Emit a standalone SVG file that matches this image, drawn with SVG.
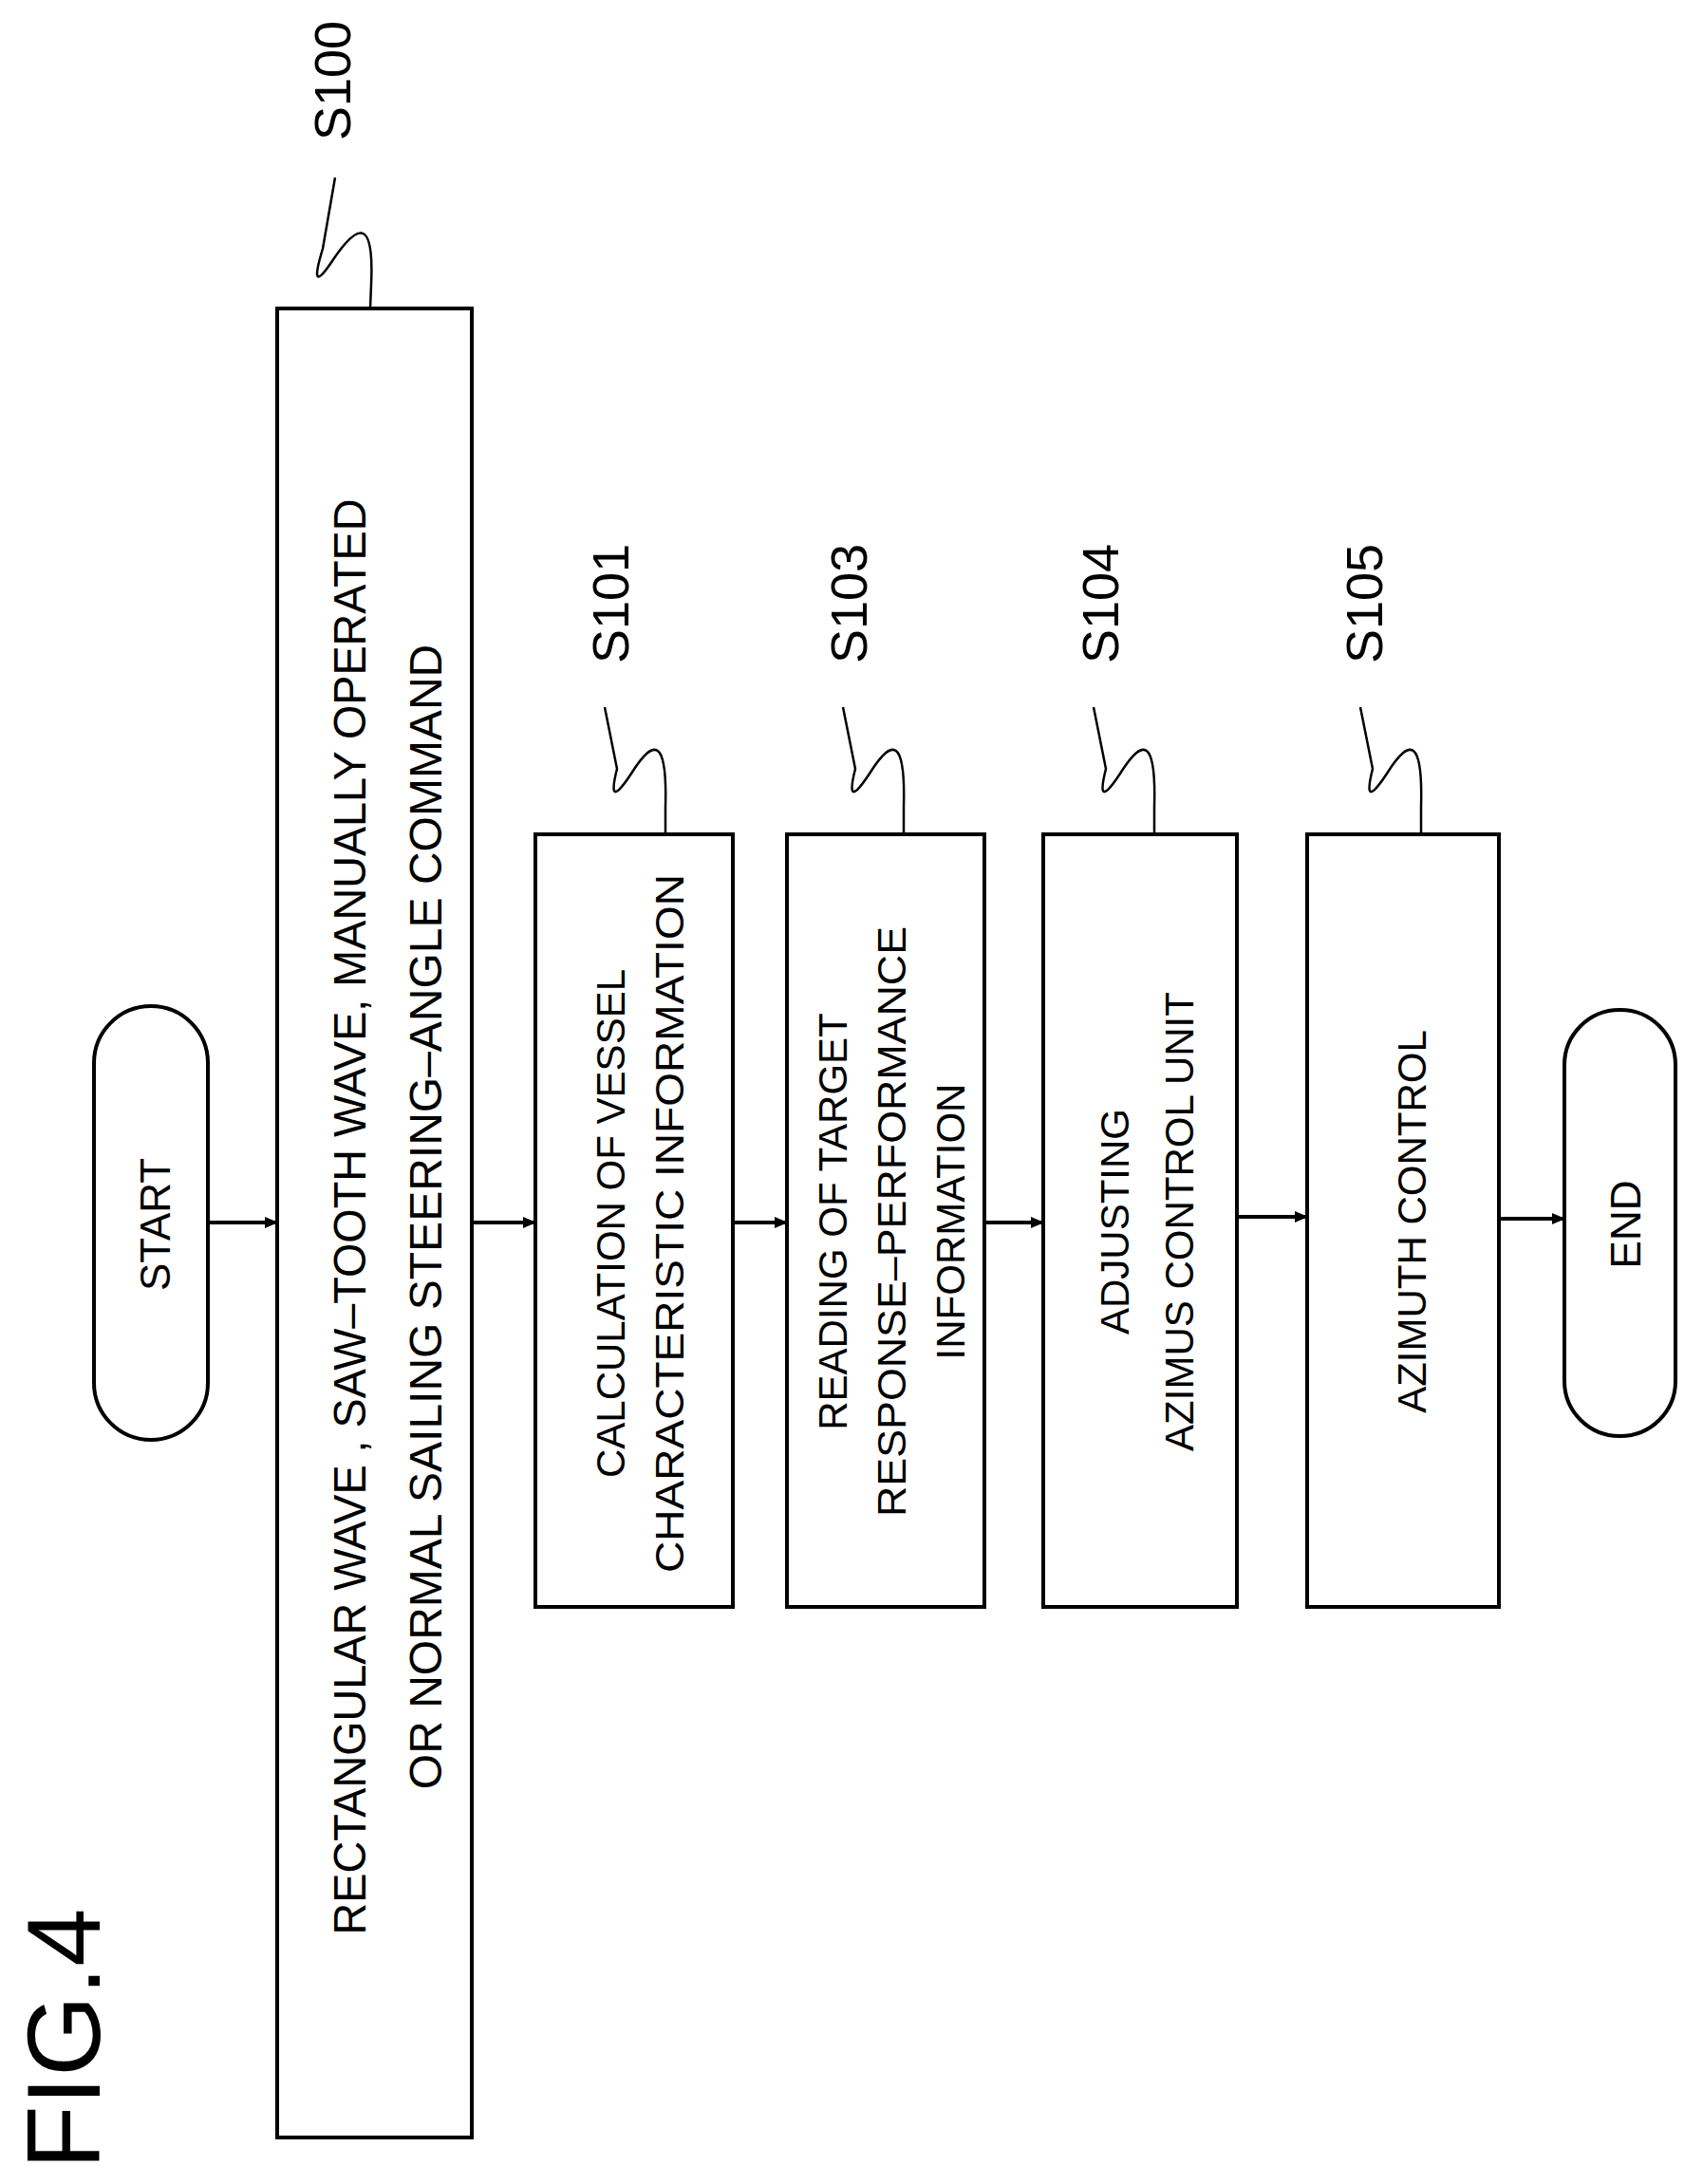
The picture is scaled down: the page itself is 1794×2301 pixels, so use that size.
<svg xmlns="http://www.w3.org/2000/svg" width="1794" height="2301" viewBox="0 0 1794 2301">
<style>
.b{fill:#fff;stroke:#000;stroke-width:4}
.t{font-family:"Liberation Sans",Arial,sans-serif;fill:#000;text-anchor:middle;dominant-baseline:central}
.c{fill:none;stroke:#000;stroke-width:4}
.s{fill:none;stroke:#000;stroke-width:2.5}
</style>
<defs>
<marker id="ah" markerWidth="14" markerHeight="12" refX="13" refY="6" orient="auto" markerUnits="userSpaceOnUse"><path d="M0,0L14,6L0,12z" fill="#000"/></marker></defs>
<rect width="1794" height="2301" fill="#fff"/>
<text class="t" font-size="110" transform="translate(66,2148) rotate(-90)">FIG.4</text>
<g id="start"><rect class="b" x="99" y="1060" width="120" height="457" rx="60"/><text class="t" font-size="44" transform="translate(163,1290) rotate(-90)">START</text></g>
<g id="s100"><rect class="b" x="292" y="325" width="205" height="1927"/>
<text class="t" font-size="48" transform="translate(368,1282) rotate(-90)" textLength="1513" lengthAdjust="spacingAndGlyphs">RECTANGULAR WAVE , SAW–TOOTH WAVE, MANUALLY  OPERATED</text>
<text class="t" font-size="48" transform="translate(448,1282) rotate(-90)">OR NORMAL SAILING STEERING–ANGLE COMMAND</text>
<path class="s" d="M390 325 L391 300 C394 235,380 230,350 275 C328 308,333 285,340 262 L353 187"/>
<text class="t" font-size="54" transform="translate(350,85) rotate(-90)">S100</text></g>
<g id="s101"><rect class="b" x="564" y="879" width="208" height="814"/>
<text class="t" font-size="42" transform="translate(643,1289) rotate(-90)">CALCULATION OF VESSEL</text>
<text class="t" font-size="42" transform="translate(705,1289) rotate(-90)" textLength="736" lengthAdjust="spacingAndGlyphs">CHARACTERISTIC INFORMATION</text>
<path class="s" d="M701 879 L701 850 C703 780,690 775,665 815 C642 850,645 830,650 810 L637 745"/>
<text class="t" font-size="54" transform="translate(643,636) rotate(-90)">S101</text></g>
<g id="s103"><rect class="b" x="829" y="879" width="208" height="814"/>
<text class="t" font-size="42" transform="translate(877,1287) rotate(-90)">READING OF TARGET</text>
<text class="t" font-size="42" transform="translate(939,1287) rotate(-90)" textLength="622" lengthAdjust="spacingAndGlyphs">RESPONSE–PERFORMANCE</text>
<text class="t" font-size="42" transform="translate(1001,1287) rotate(-90)">INFORMATION</text>
<path class="s" d="M952 879 L952 850 C954 780,941 775,916 815 C893 850,896 830,901 810 L888 745"/>
<text class="t" font-size="54" transform="translate(894,636) rotate(-90)">S103</text></g>
<g id="s104"><rect class="b" x="1099" y="879" width="204" height="814"/>
<text class="t" font-size="42" transform="translate(1174,1287) rotate(-90)">ADJUSTING</text>
<text class="t" font-size="42" transform="translate(1242,1287) rotate(-90)">AZIMUS CONTROL UNIT</text>
<path class="s" d="M1216 879 L1216 850 C1218 780,1205 775,1180 815 C1157 850,1160 830,1165 810 L1152 745"/>
<text class="t" font-size="54" transform="translate(1159,636) rotate(-90)">S104</text></g>
<g id="s105"><rect class="b" x="1377" y="879" width="202" height="814"/>
<text class="t" font-size="42" transform="translate(1487,1287) rotate(-90)">AZIMUTH CONTROL</text>
<path class="s" d="M1497 879 L1497 850 C1499 780,1486 775,1461 815 C1438 850,1441 830,1446 810 L1433 745"/>
<text class="t" font-size="54" transform="translate(1437,636) rotate(-90)">S105</text></g>
<g id="end"><rect class="b" x="1648" y="1064" width="117" height="449" rx="58"/><text class="t" font-size="44" transform="translate(1712,1290) rotate(-90)">END</text></g>
<g id="connectors">
<line class="c" x1="219" y1="1288" x2="292" y2="1288" marker-end="url(#ah)"/>
<line class="c" x1="497" y1="1288" x2="564" y2="1288" marker-end="url(#ah)"/>
<line class="c" x1="772" y1="1288" x2="829" y2="1288" marker-end="url(#ah)"/>
<line class="c" x1="1037" y1="1288" x2="1099" y2="1288" marker-end="url(#ah)"/>
<line class="c" x1="1303" y1="1282" x2="1377" y2="1282" marker-end="url(#ah)"/>
<line class="c" x1="1579" y1="1284" x2="1648" y2="1284" marker-end="url(#ah)"/>
</g>
</svg>
